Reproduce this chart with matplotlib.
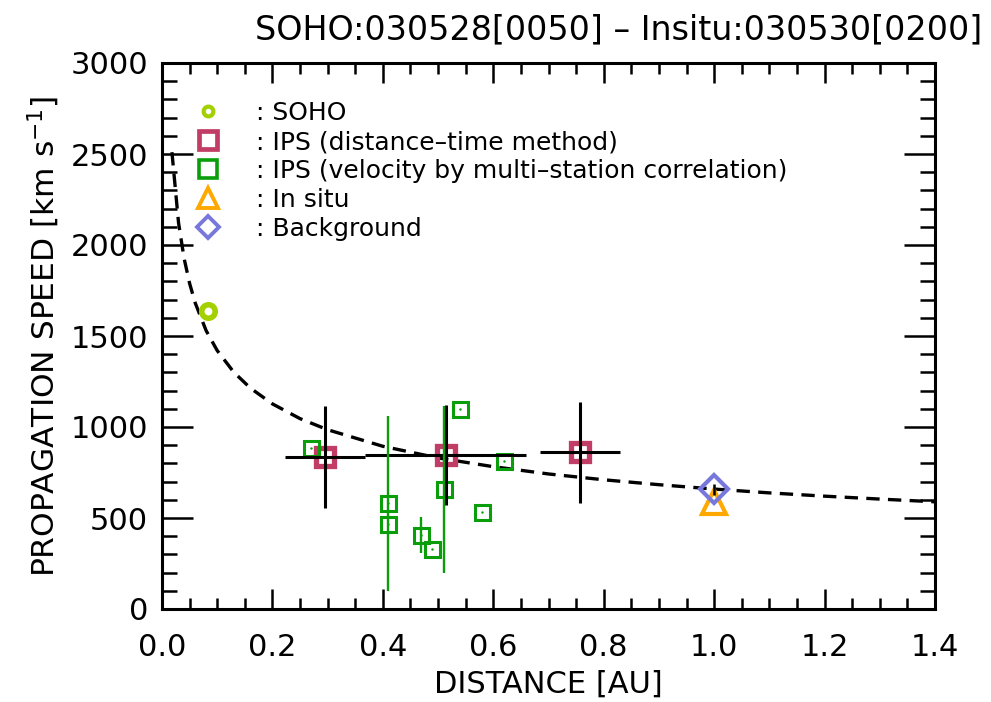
import numpy as np
import matplotlib
matplotlib.use("Agg")
import matplotlib.pyplot as plt
from matplotlib.lines import Line2D
from matplotlib.ticker import MultipleLocator, FormatStrFormatter

# SOHO point
soho_r = [0.083]
soho_v = [1640]

# IPS (distance-time method), with errors
ipsdt_r = [0.295, 0.514, 0.757]
ipsdt_v = [835, 846, 860]
ipsdt_rerr = [0.072, 0.146, 0.073]
ipsdt_verr = [280, 277, 277]

# IPS (velocity by multi-station correlation)
ipsms_r = [0.270, 0.409, 0.409, 0.469, 0.489, 0.510, 0.539, 0.579, 0.619]
ipsms_v = [884, 581, 467, 407, 330, 658, 1099, 535, 813]
ipsms_verr = [0, 480, 0, 100, 0, 460, 0, 0, 0]

# In situ and background
insitu_r = [1.0]
insitu_v = [588]
bg_r = [1.0]
bg_v = [659]
bg_verr = [30]

# dashed fit curve
fit_r = [0.018, 0.03, 0.04, 0.05, 0.06, 0.08, 0.10, 0.13, 0.16, 0.20, 0.25,
         0.30, 0.40, 0.50, 0.60, 0.70, 0.80, 0.90, 1.00, 1.10, 1.20, 1.30, 1.40]
fit_v = [2510, 2121, 1927, 1789, 1683, 1529, 1420, 1301, 1214, 1127, 1046,
         985, 894, 830, 782, 742, 710, 683, 659, 638, 620, 604, 589]

c_soho = "#a2d000"
c_dt = "#c23d66"
c_ms = "#0a9e0a"
c_ins = "#ffa800"
c_bg = "#7878dc"

plt.rcParams["font.family"] = ["DejaVu Sans"]

fig = plt.figure(figsize=(9.91, 7.02), dpi=100)
ax = fig.add_axes([162 / 991, 1 - 609 / 702, 773 / 991, 546 / 702])

ax.plot(fit_r, fit_v, color="black", lw=2.4, dashes=(4, 2.5), zorder=2)

ax.plot(soho_r, soho_v, "o", ms=9.7, mfc="none", mec=c_soho, mew=4, zorder=3)
ax.plot(insitu_r, insitu_v, "^", ms=17, mfc="none", mec=c_ins, mew=3, zorder=3)
ax.plot(bg_r, bg_v, "D", ms=14, mfc="none", mec=c_bg, mew=3, zorder=3)
ax.plot(ipsdt_r, ipsdt_v, "s", ms=13.5, mfc="none", mec=c_dt, mew=3.8, zorder=3)
ax.plot(ipsms_r, ipsms_v, "s", ms=10.8, mfc="none", mec=c_ms, mew=2.2, zorder=3)
ax.plot(ipsms_r, ipsms_v, ".", ms=1.5, color=c_ms, zorder=3)

ax.errorbar(ipsdt_r, ipsdt_v, xerr=ipsdt_rerr, yerr=ipsdt_verr, fmt="none",
            ecolor="black", elinewidth=2.2, capsize=0, zorder=4)
ms_r = np.array(ipsms_r)
ms_v = np.array(ipsms_v)
ms_e = np.array(ipsms_verr)
keep = ms_e > 0
ax.errorbar(ms_r[keep], ms_v[keep], yerr=ms_e[keep], fmt="none",
            ecolor=c_ms, elinewidth=1.7, capsize=0, zorder=4)
ax.errorbar(bg_r, bg_v, yerr=bg_verr, fmt="none", ecolor="black",
            elinewidth=1.8, capsize=0, zorder=4)

ax.set_xlim(0, 1.4)
ax.set_ylim(0, 3000)
ax.xaxis.set_major_locator(MultipleLocator(0.2))
ax.xaxis.set_minor_locator(MultipleLocator(0.05))
ax.yaxis.set_major_locator(MultipleLocator(500))
ax.yaxis.set_minor_locator(MultipleLocator(100))
ax.xaxis.set_major_formatter(FormatStrFormatter("%.1f"))

for s in ax.spines.values():
    s.set_linewidth(2.2)
ax.tick_params(which="both", direction="in", top=True, right=True, width=1.8)
ax.tick_params(axis="x", which="major", length=14.4, labelsize=22, pad=17)
ax.tick_params(axis="x", which="minor", length=8)
ax.tick_params(axis="y", which="major", length=22, labelsize=22, pad=10)
ax.tick_params(axis="y", which="minor", length=11)

ax.set_xlabel("DISTANCE [AU]", fontsize=22, labelpad=6)
ax.set_ylabel(r"PROPAGATION SPEED [km s$^{\mathregular{-1}}$]", fontsize=22.5,
              labelpad=6)
ax.set_title("SOHO:030528[0050] \u2013 Insitu:030530[0200]", fontsize=24,
             x=0.591, pad=17)

handles = [
    Line2D([], [], ls="none", marker="o", ms=7, mfc="none", mec=c_soho, mew=3),
    Line2D([], [], ls="none", marker="s", ms=13.5, mfc="none", mec=c_dt, mew=3.4),
    Line2D([], [], ls="none", marker="s", ms=13, mfc="none", mec=c_ms, mew=2.6),
    Line2D([], [], ls="none", marker="^", ms=14, mfc="none", mec=c_ins, mew=2.8),
    Line2D([], [], ls="none", marker="D", ms=11, mfc="none", mec=c_bg, mew=2.8),
]
labels = [": SOHO", ": IPS (distance\u2013time method)",
          ": IPS (velocity by multi\u2013station correlation)",
          ": In situ", ": Background"]
ax.legend(handles, labels, loc="upper left", bbox_to_anchor=(0.042, 0.93),
          frameon=False, fontsize=18, handlelength=1.1, handletextpad=1.35,
          labelspacing=0.2, borderpad=0, borderaxespad=0)

fig.savefig("out.png", dpi=100)
